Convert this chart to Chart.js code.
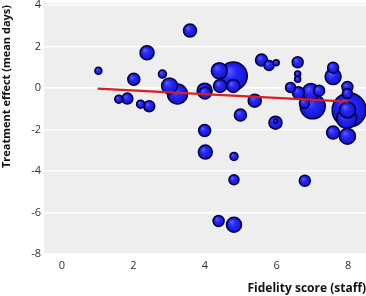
<!DOCTYPE html>
<html>
<head>
<meta charset="utf-8">
<script src="https://cdn.jsdelivr.net/npm/chart.js@4"></script>
<style>
html,body{margin:0;padding:0;background:#fff;}
#wrap{width:366px;height:296px;}
</style>
</head>
<body>
<div id="wrap"><canvas id="c" width="366" height="296"></canvas></div>
<script>
// Fidelity score (staff)
const fidelity = [8.03, 4.79, 7.01, 3.23, 7.96, 6.96, 4.40, 3.01, 7.98, 7.58, 7.98, 3.99, 4.81, 2.38, 4.01,
  3.58, 4.42, 4.79, 5.39, 5.97, 7.58, 4.00, 2.01, 4.99, 5.58, 6.61, 3.99, 1.83, 2.44, 7.19, 6.59,
  4.38, 6.79, 7.58, 7.98, 5.79, 6.78, 6.39, 4.81, 7.98, 1.59, 2.81, 2.20, 4.81, 1.02, 5.99, 6.59, 6.59, 5.97];
// Treatment effect (mean days)
const effect = [-1.06, 0.58, -0.88, -0.29, -1.46, -0.19, 0.83, 0.10, -1.06, 0.55, -2.32, -0.13, -6.59, 1.70, -3.09,
  2.77, 0.10, 0.10, -0.61, -1.67, -2.15, -0.24, 0.42, -1.30, 1.35, -0.23, -2.05, -0.51, -0.88, -0.13, 1.24,
  -6.41, -4.47, 0.98, 0.05, 1.09, -0.74, 0.03, -4.42, -0.27, -0.54, 0.67, -0.78, -3.30, 0.83, 1.22, 0.67, 0.42, -1.60];
// Bubble size (study weight, drawn as radius)
const weight = [17, 14, 12.5, 10, 10, 8.5, 8, 8, 8, 8, 8, 7.5, 7.5, 7, 7,
  6.5, 6.5, 6.5, 6.5, 6.5, 6.5, 6, 6, 6, 6, 6, 6, 5.5, 5.5, 5.5, 5.5,
  5.5, 5.5, 5.5, 5.5, 5, 5, 5, 5, 5, 4, 4, 4, 4, 3.5, 3, 3, 3, 2];
// Fitted regression line
const lineX = [1, 8];
const lineY = [-0.03, -0.66];
const xTicks = [0, 2, 4, 6, 8];
const yTicks = [4, 2, 0, -2, -4, -6, -8];

const bubbles = fidelity.map((x, i) => ({x: x, y: effect[i], r: weight[i]}));
const fit = lineX.map((x, i) => ({x: x, y: lineY[i]}));

const bgPlugin = {
  id: 'bg',
  beforeDraw(chart) {
    const a = chart.chartArea, c = chart.ctx;
    c.save();
    c.fillStyle = '#eeeeee';
    c.fillRect(a.left, a.top - 2, a.right - a.left, a.bottom - a.top + 2);
    c.restore();
  }
};

function grad(ctx) {
  if (ctx.type !== 'data') return '#2424e8';
  const ch = ctx.chart, raw = ctx.raw;
  const x = ch.scales.x.getPixelForValue(raw.x);
  const y = ch.scales.y.getPixelForValue(raw.y);
  const r = raw.r;
  if (!isFinite(x) || !isFinite(y)) return '#2424e8';
  const g = ch.ctx.createRadialGradient(x - r * 0.35, y - r * 0.4, r * 0.05, x, y, r);
  g.addColorStop(0, '#5a5aff');
  g.addColorStop(0.45, '#2626f4');
  g.addColorStop(1, '#1414cc');
  return g;
}

new Chart(document.getElementById('c'), {
  data: {
    datasets: [
      {
        type: 'line', data: fit, order: 0,
        borderColor: '#d82020', borderWidth: 2.2, pointRadius: 0, fill: false
      },
      {
        type: 'bubble', data: bubbles, order: 1,
        backgroundColor: grad, borderColor: '#000040', borderWidth: 1.5
      }
    ]
  },
  options: {
    responsive: false,
    animation: false,
    devicePixelRatio: 1,
    layout: {autoPadding: false, padding: {top: 5, right: 0, left: 0, bottom: 0}},
    plugins: {legend: {display: false}, tooltip: {enabled: false}},
    scales: {
      x: {
        type: 'linear', min: -0.5, max: 8.5,
        afterBuildTicks: s => { s.ticks = xTicks.map(v => ({value: v})); },
        afterFit: s => { s.height = 42; s.paddingLeft = 0; s.paddingRight = 0; },
        grid: {display: false, drawTicks: false},
        border: {display: false},
        ticks: {color: '#333', font: {family: 'Open Sans', size: 11}, padding: 5},
        title: {display: true, text: 'Fidelity score (staff)', align: 'end', color: '#111',
          font: {family: 'Open Sans', size: 12, weight: 'bold'}, padding: {top: 4, bottom: 0}}
      },
      y: {
        type: 'linear', min: -8, max: 4,
        afterBuildTicks: s => { s.ticks = yTicks.map(v => ({value: v})); },
        afterFit: s => { s.width = 44; s.paddingTop = 0; s.paddingBottom = 0; },
        grid: {color: '#ffffff', lineWidth: 1.5, drawTicks: false},
        border: {display: false},
        ticks: {color: '#333', font: {family: 'Open Sans', size: 11}, padding: 3},
        title: {display: true, text: 'Treatment effect (mean days)', align: 'end', color: '#111',
          font: {family: 'Open Sans', size: 11, weight: 'bold'}, padding: {top: 0, bottom: 2}}
      }
    }
  },
  plugins: [bgPlugin]
});
</script>
</body>
</html>
